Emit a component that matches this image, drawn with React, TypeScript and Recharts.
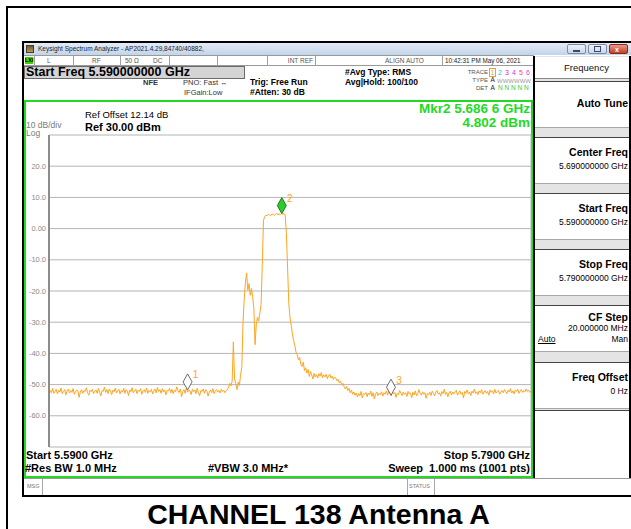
import React from "react";
import { CartesianGrid, ComposedChart, Line, ReferenceDot, XAxis, YAxis } from "recharts";

const FONT = "'Liberation Sans', Arial, Helvetica, sans-serif";
const TRACE_COLOR = "#FFA41F";
const GREEN = "#22DA22";
const GRID = "#b4b4b4";
const AXIS = "#8c8c8c";

// sweep: 5.590 GHz .. 5.790 GHz, levels read every 0.5 MHz
const START_MHZ = 5590;
const STOP_MHZ = 5790;
const STEP_MHZ = 0.5;

const FREQ_TICKS = [5590, 5610, 5630, 5650, 5670, 5690, 5710, 5730, 5750, 5770, 5790];
const DB_TICKS = [-70, -60, -50, -40, -30, -20, -10, 0, 10, 20, 30];

// dBm, from 5590.0 MHz
const FLOOR_LEFT = [
  -53.8, -51.9, -52.6, -51.2, -52.8, -52.1, -51.5, -53.0, -51.8, -52.4, -51.1, -52.9, -52.2, -51.6, -53.3, -52.0, -51.4, -52.7, -51.9, -52.5,
  -51.3, -53.1, -52.3, -51.7, -52.0, -54.1, -52.4, -51.6, -52.8, -51.9, -52.2, -51.0, -52.6, -53.4, -51.8, -52.3, -51.5, -52.9, -52.1, -51.7,
  -52.8, -51.2, -52.4, -53.6, -51.9, -52.2, -50.8, -52.5, -51.6, -52.9, -51.4, -52.0, -53.2, -51.8, -52.3, -51.1, -52.7, -52.0, -51.5, -53.0,
  -51.9, -52.4, -51.2, -52.8, -51.6, -52.1, -53.5, -51.7, -52.3, -51.0, -52.6, -52.0, -51.4, -52.9, -51.8, -52.2, -51.3, -53.1, -52.0, -51.6,
  -52.5, -51.1, -52.8, -51.9, -52.3, -51.5, -53.0, -52.1, -51.4, -52.7, -50.9, -52.2, -51.6, -52.8, -51.3, -52.4, -51.7, -53.3, -51.9, -52.0,
  -51.2, -52.6, -51.5, -52.9, -51.8, -52.3, -50.7, -51.9, -52.5, -51.4, -53.9, -52.2, -51.6, -52.8, -51.1, -52.4, -51.8, -52.0, -53.2, -51.5,
  -52.3, -51.7, -52.9, -51.2, -52.6, -53.6, -51.9, -52.2, -51.4, -52.8, -51.6, -52.1, -53.7, -52.4, -51.8, -52.6, -51.3, -52.9, -52.0, -51.6,
  -52.4, -51.9, -52.7, -51.5, -52.2, -51.8, -52.6,
];
// from 5663.5 MHz
const SKIRT_LOW = [
  -52.0, -51.6, -50.8, -49.6, -50.4, -48.9, -36.3, -48.2, -49.7, -51.6, -49.2, -50.3, -46.8, -44.5, -30.2, -22.6,
  -17.4, -14.2, -19.8, -17.6, -21.4, -19.2, -21.8, -25.6, -37.2, -30.8, -28.4, -29.6, -27.1, -24.3, -11.5, 2.6,
];
// from 5679.5 MHz
const CHANNEL_TOP = [3.9, 4.3, 4.1, 4.6, 4.4, 4.2, 4.7, 4.5, 4.3, 4.6, 4.9, 4.4, 4.7, 4.5, 4.8, 4.6, 4.9, 4.3];
// from 5688.5 MHz
const SKIRT_HIGH = [
  -1.5, -12.5, -24.0, -28.5, -31.0, -33.8, -35.9, -37.5, -39.6, -40.4, -42.1, -41.3, -43.6, -44.2, -42.8, -45.5, -44.6, -46.3, -45.1, -47.4,
  -45.8, -46.9, -48.2, -46.4, -47.6, -46.8, -47.9, -46.5, -47.3, -46.1, -47.8, -46.9, -47.5, -46.7, -48.1, -47.2, -46.6, -47.9, -47.3, -48.4,
  -47.6, -48.0, -48.8, -48.3, -49.5, -48.9, -50.2, -49.6, -50.8, -51.4, -50.6, -51.9, -51.2, -52.6, -51.8, -53.1, -52.4, -53.4, -52.7, -54.0,
];
// from 5718.5 MHz
const FLOOR_RIGHT = [
  -52.9, -53.6, -52.2, -54.3, -52.8, -53.1, -52.5, -53.9, -52.7, -53.3, -52.1, -53.8, -52.6, -54.6, -53.0, -52.4, -53.5, -52.8, -53.2, -52.3,
  -53.7, -52.6, -53.1, -52.0, -53.4, -51.8, -52.9, -53.6, -52.3, -53.0, -52.5, -54.1, -52.8, -53.3, -51.9, -52.7, -53.5, -52.4, -53.1, -52.6,
  -53.8, -52.2, -53.0, -52.7, -54.2, -52.5, -53.3, -52.0, -53.6, -52.9, -51.6, -52.8, -53.4, -52.3, -53.1, -52.6, -54.4, -52.9, -53.2, -52.4,
  -53.5, -52.1, -52.8, -53.6, -52.4, -51.9, -53.0, -52.6, -53.7, -52.2, -52.9, -51.5, -53.2, -52.5, -53.9, -52.7, -52.1, -53.3, -52.4, -53.0,
  -52.3, -51.8, -53.4, -52.6, -52.0, -53.1, -52.5, -54.3, -52.2, -52.8, -51.7, -53.0, -52.4, -53.5, -52.1, -52.7, -51.4, -52.9, -52.3, -53.2,
  -52.0, -52.6, -51.6, -53.1, -52.4, -51.9, -52.8, -52.2, -53.4, -51.7, -52.5, -52.0, -53.0, -51.5, -52.7, -52.2, -51.8, -53.1, -52.4, -51.9,
  -52.6, -51.6, -52.3, -52.9, -51.8, -52.4, -51.3, -52.7, -52.0, -53.0, -51.7, -52.2, -51.5, -52.8, -52.1, -51.6, -52.5, -51.9, -52.3, -51.4,
  -52.2, -51.8, -52.5, -52.0,
];

const SEGMENTS = [
  { from: 5590, levels: FLOOR_LEFT },
  { from: 5663.5, levels: SKIRT_LOW },
  { from: 5679.5, levels: CHANNEL_TOP },
  { from: 5688.5, levels: SKIRT_HIGH },
  { from: 5718.5, levels: FLOOR_RIGHT },
];

const MARKERS = [
  { n: "1", f: 5647.5, v: -51.7, active: false },
  { n: "2", f: 5686.6, v: 4.802, active: true },
  { n: "3", f: 5731.9, v: -53.4, active: false },
];

const SOFTKEYS = [
  { title: "Auto Tune", value: "" },
  { title: "Center Freq", value: "5.690000000 GHz" },
  { title: "Start Freq", value: "5.590000000 GHz" },
  { title: "Stop Freq", value: "5.790000000 GHz" },
  { title: "CF Step", value: "20.000000 MHz" },
  { title: "Freq Offset", value: "0 Hz" },
];

const traceData = SEGMENTS.flatMap((s) => s.levels.map((v, i) => ({ f: s.from + i * STEP_MHZ, v })));

type TxtProps = {
  x: number;
  y: number;
  size: number;
  bold?: boolean;
  color?: string;
  right?: boolean;
  children: React.ReactNode;
};

// text placed by its left (or right) edge and the middle of its caps
function T({ x, y, size, bold, color = "#000", right, children }: TxtProps) {
  return (
    <div
      style={{
        position: "absolute",
        top: y - size / 2,
        ...(right ? { right: 631 - x } : { left: x }),
        fontSize: size,
        lineHeight: `${size}px`,
        fontWeight: bold ? 700 : 400,
        color,
        whiteSpace: "pre",
      }}
    >
      {children}
    </div>
  );
}

function Box({ l, t, w, h, style }: { l: number; t: number; w: number; h: number; style?: React.CSSProperties }) {
  return <div style={{ position: "absolute", left: l, top: t, width: w, height: h, boxSizing: "border-box", ...style }} />;
}

function DbTick({ x, y, payload }: any) {
  const v = payload.value as number;
  if (v === 30 || v === -70) return <g />;
  return (
    <text x={x} y={y} textAnchor="end" dominantBaseline="central" fontSize={7.5} fill="#8a8a8a" fontFamily={FONT}>
      {v === 0 ? "0.00" : v.toFixed(1)}
    </text>
  );
}

function markerShape(m: (typeof MARKERS)[number]) {
  return (p: any) => {
    const { cx, cy } = p;
    return (
      <g>
        <polygon
          points={`${cx},${cy} ${cx - 4.5},${cy - 8} ${cx},${cy - 16} ${cx + 4.5},${cy - 8}`}
          fill={m.active ? "#2ccc2c" : "#ffffff"}
          stroke={m.active ? "#127312" : "#5c5c5c"}
          strokeWidth={0.9}
        />
        <text x={cx + 8} y={cy - 15} fill={TRACE_COLOR} fontSize={10} textAnchor="middle" dominantBaseline="central" fontFamily={FONT}>
          {m.n}
        </text>
      </g>
    );
  };
}

function Spectrum() {
  return (
    <ComposedChart width={631} height={529} data={traceData} margin={{ top: 135, right: 100, bottom: 82, left: 24 }}>
      <CartesianGrid stroke={GRID} strokeWidth={1} />
      <XAxis
        type="number"
        dataKey="f"
        domain={[START_MHZ, STOP_MHZ]}
        ticks={FREQ_TICKS}
        tick={false}
        tickLine={false}
        height={0}
        axisLine={{ stroke: AXIS, strokeWidth: 2 }}
        allowDataOverflow
      />
      <YAxis
        type="number"
        domain={[-70, 30]}
        ticks={DB_TICKS}
        width={25}
        tickSize={0}
        tickMargin={3}
        tickLine={false}
        axisLine={{ stroke: AXIS, strokeWidth: 2 }}
        tick={DbTick}
        allowDataOverflow
      />
      <Line type="linear" dataKey="v" stroke={TRACE_COLOR} strokeWidth={1} dot={false} isAnimationActive={false} />
      {MARKERS.map((m) => (
        <ReferenceDot key={m.n} x={m.f} y={m.v} r={4} shape={markerShape(m)} />
      ))}
    </ComposedChart>
  );
}

const SOFTKEY_TOPS = [81, 137, 193, 249, 305, 362];

function Softkey({ title, value, top }: { title: string; value: string; top: number }) {
  const isStep = title === "CF Step";
  return (
    <>
      <Box l={535} t={top} w={94} h={47} style={{ background: "#fff", borderTop: "1px solid #444", borderBottom: "1px solid #a8a8a8" }} />
      <T x={628} y={value ? top + (isStep ? 12 : 15) : top + 22} size={10.5} bold right>{title}</T>
      {value && <T x={628} y={top + (isStep ? 23.5 : 29)} size={8.5} right>{value}</T>}
      {isStep && (
        <>
          <T x={538} y={top + 34} size={8.5}><span style={{ textDecoration: "underline" }}>Auto</span></T>
          <T x={628} y={top + 34} size={8.5} right>Man</T>
        </>
      )}
    </>
  );
}

export default function App() {
  return (
    <div
      style={{
        position: "absolute",
        left: 0,
        top: 0,
        width: 631,
        height: 529,
        background: "#fff",
        overflow: "hidden",
        fontFamily: FONT,
      }}
    >
      {/* outer frame */}
      <Box l={6} t={6} w={700} h={600} style={{ border: "2px solid #000" }} />
      {/* analyzer window */}
      <Box l={22} t={41} w={700} h={456} style={{ border: "2px solid #000", background: "#fff" }} />
      <Box l={24} t={43} w={607} h={12} style={{ background: "linear-gradient(#e2ebf6, #c3d4ea)" }} />
      <Box l={26} t={45} w={8} h={8} style={{ background: "linear-gradient(#6b5a3a, #b89a58)", border: "1px solid #4a3a20" }} />
      <T x={38} y={49} size={6.5} color="#222">Keysight Spectrum Analyzer - AP2021.4.29,84740/40882,</T>
      <Box l={567} t={44} w={19} h={10} style={{ background: "linear-gradient(#eef3fa, #c9d7ea)", border: "1px solid #7c8ca6", borderRadius: 2 }} />
      <Box l={573} t={50} w={7} h={2} style={{ background: "#3a4a66" }} />
      <Box l={588} t={44} w={19} h={10} style={{ background: "linear-gradient(#eef3fa, #c9d7ea)", border: "1px solid #7c8ca6", borderRadius: 2 }} />
      <Box l={594} t={46} w={7} h={6} style={{ border: "1px solid #3a4a66" }} />
      <Box l={609} t={44} w={19} h={10} style={{ background: "linear-gradient(#e99a8c, #c0402c)", border: "1px solid #8a2a1a", borderRadius: 2 }} />
      <T x={615} y={49} size={7} bold color="#fff">x</T>

      {/* status row */}
      <Box l={24} t={55} w={510} h={11} style={{ borderTop: "1px solid #9a9a9a", borderBottom: "1px solid #9a9a9a" }} />
      <Box l={25} t={57} w={8} h={7} style={{ background: "#3ed000" }} />
      <T x={25} y={60.5} size={5.5} bold color="#000">LXI</T>
      {[34, 73, 120, 169, 217, 267, 315, 442, 533].map((x) => (
        <Box key={x} l={x} t={55} w={1} h={11} style={{ background: "#a0a0a0" }} />
      ))}
      <T x={47} y={61} size={6.5} color="#555">L</T>
      <T x={92} y={61} size={6.5} color="#555">RF</T>
      <T x={125} y={61} size={6.5} color="#555">50 Ω</T>
      <T x={153} y={61} size={6.5} color="#555">DC</T>
      <T x={313} y={61} size={6.5} color="#555" right>INT REF</T>
      <T x={385} y={61} size={6.5} color="#555">ALIGN AUTO</T>
      <T x={445} y={61} size={6.3} color="#222">10:42:31 PM May 06, 2021</T>

      {/* setting lines */}
      <Box l={24} t={66} w={221} h={13} style={{ background: "#d4d4d4", border: "1px solid #6a6a6a" }} />
      <T x={26} y={72.5} size={12.5} bold>Start Freq 5.590000000 GHz</T>
      <T x={143} y={83} size={7.5} bold color="#333">NFE</T>
      <T x={183} y={83} size={7.5} color="#333">PNO: Fast ↔</T>
      <T x={184} y={92.5} size={7.5} color="#333">IFGain:Low</T>
      <T x={250} y={82} size={8.5} bold>Trig: Free Run</T>
      <T x={250} y={92} size={8.5} bold>#Atten: 30 dB</T>
      <T x={345} y={72} size={8.5} bold>#Avg Type: RMS</T>
      <T x={345} y={82} size={8.5} bold>Avg|Hold: 100/100</T>
      <T x={488} y={72} size={6} color="#555" right>TRACE</T>
      <T x={488} y={80} size={6} color="#555" right>TYPE</T>
      <T x={488} y={88} size={6} color="#555" right>DET</T>
      <Box l={489} t={68} w={7} h={9} style={{ border: "1px solid #f0a020" }} />
      <T x={490.5} y={72.5} size={7} color={TRACE_COLOR}>1</T>
      <T x={498} y={72.5} size={7} color="#18c0e0">2</T>
      <T x={505} y={72.5} size={7} color="#e020e0">3</T>
      <T x={512} y={72.5} size={7} color="#c040f0">4</T>
      <T x={519} y={72.5} size={7} color="#ff4080">5</T>
      <T x={526} y={72.5} size={7} color="#c050e0">6</T>
      <T x={490.5} y={80.5} size={6.5} color="#222">A</T>
      <T x={497} y={80.5} size={6} color="#9a9a9a">WWWWWW</T>
      <T x={490.5} y={88.5} size={6.5} color="#222">A</T>
      <T x={498} y={88.5} size={6.5} color="#3cc83c">N N N N N</T>

      {/* softkey panel */}
      <Box l={533} t={56} w={98} h={423} style={{ background: "#e4e4e4", borderLeft: "2px solid #000", borderRight: "2px solid #000" }} />
      <Box l={535} t={57} w={94} h={22} style={{ background: "#fff", borderBottom: "1px solid #888" }} />
      <T x={564} y={68} size={9.5} color="#111">Frequency</T>
      {SOFTKEYS.map((k, i) => (
        <Softkey key={k.title} title={k.title} value={k.value} top={SOFTKEY_TOPS[i]} />
      ))}
      <Box l={535} t={410} w={94} h={68} style={{ background: "#fff", borderTop: "1px solid #444" }} />

      {/* measurement area */}
      <Box l={24} t={100} w={509} h={378} style={{ border: `2px solid ${GREEN}` }} />
      <div style={{ position: "absolute", left: 0, top: 0 }}>
        <Spectrum />
      </div>
      <T x={85} y={115} size={9.5}>Ref Offset 12.14 dB</T>
      <T x={85} y={127} size={11} bold>Ref 30.00 dBm</T>
      <T x={26} y={125} size={8.5} color="#7a7a7a">10 dB/div</T>
      <T x={26} y={133.5} size={8.5} color="#7a7a7a">Log</T>
      <T x={530} y={109} size={13.5} bold color={GREEN} right>Mkr2 5.686 6 GHz</T>
      <T x={530} y={123} size={13.5} bold color={GREEN} right>4.802 dBm</T>
      <T x={26} y={455} size={11} bold>Start 5.5900 GHz</T>
      <T x={530} y={455} size={11} bold right>Stop 5.7900 GHz</T>
      <T x={25} y={468} size={11} bold>#Res BW 1.0 MHz</T>
      <T x={208} y={468} size={11} bold>#VBW 3.0 MHz*</T>
      <T x={530} y={468} size={11} bold right>{"Sweep  1.000 ms (1001 pts)"}</T>

      {/* message row */}
      <Box l={24} t={478} w={607} h={17} style={{ background: "#fff", borderTop: "1px solid #9a9a9a" }} />
      <T x={27} y={486.5} size={5.5} color="#777">MSG</T>
      <Box l={42} t={479} w={1} h={16} style={{ background: "#a8a8a8" }} />
      <Box l={407} t={479} w={1} h={16} style={{ background: "#a8a8a8" }} />
      <T x={409} y={486.5} size={5.5} color="#777">STATUS</T>
      <Box l={434} t={479} w={1} h={16} style={{ background: "#a8a8a8" }} />

      <div
        style={{
          position: "absolute",
          left: 3,
          top: 500,
          width: 631,
          textAlign: "center",
          fontSize: 28.5,
          lineHeight: "28px",
          fontWeight: 700,
          color: "#000",
        }}
      >
        CHANNEL 138 Antenna A
      </div>
    </div>
  );
}
